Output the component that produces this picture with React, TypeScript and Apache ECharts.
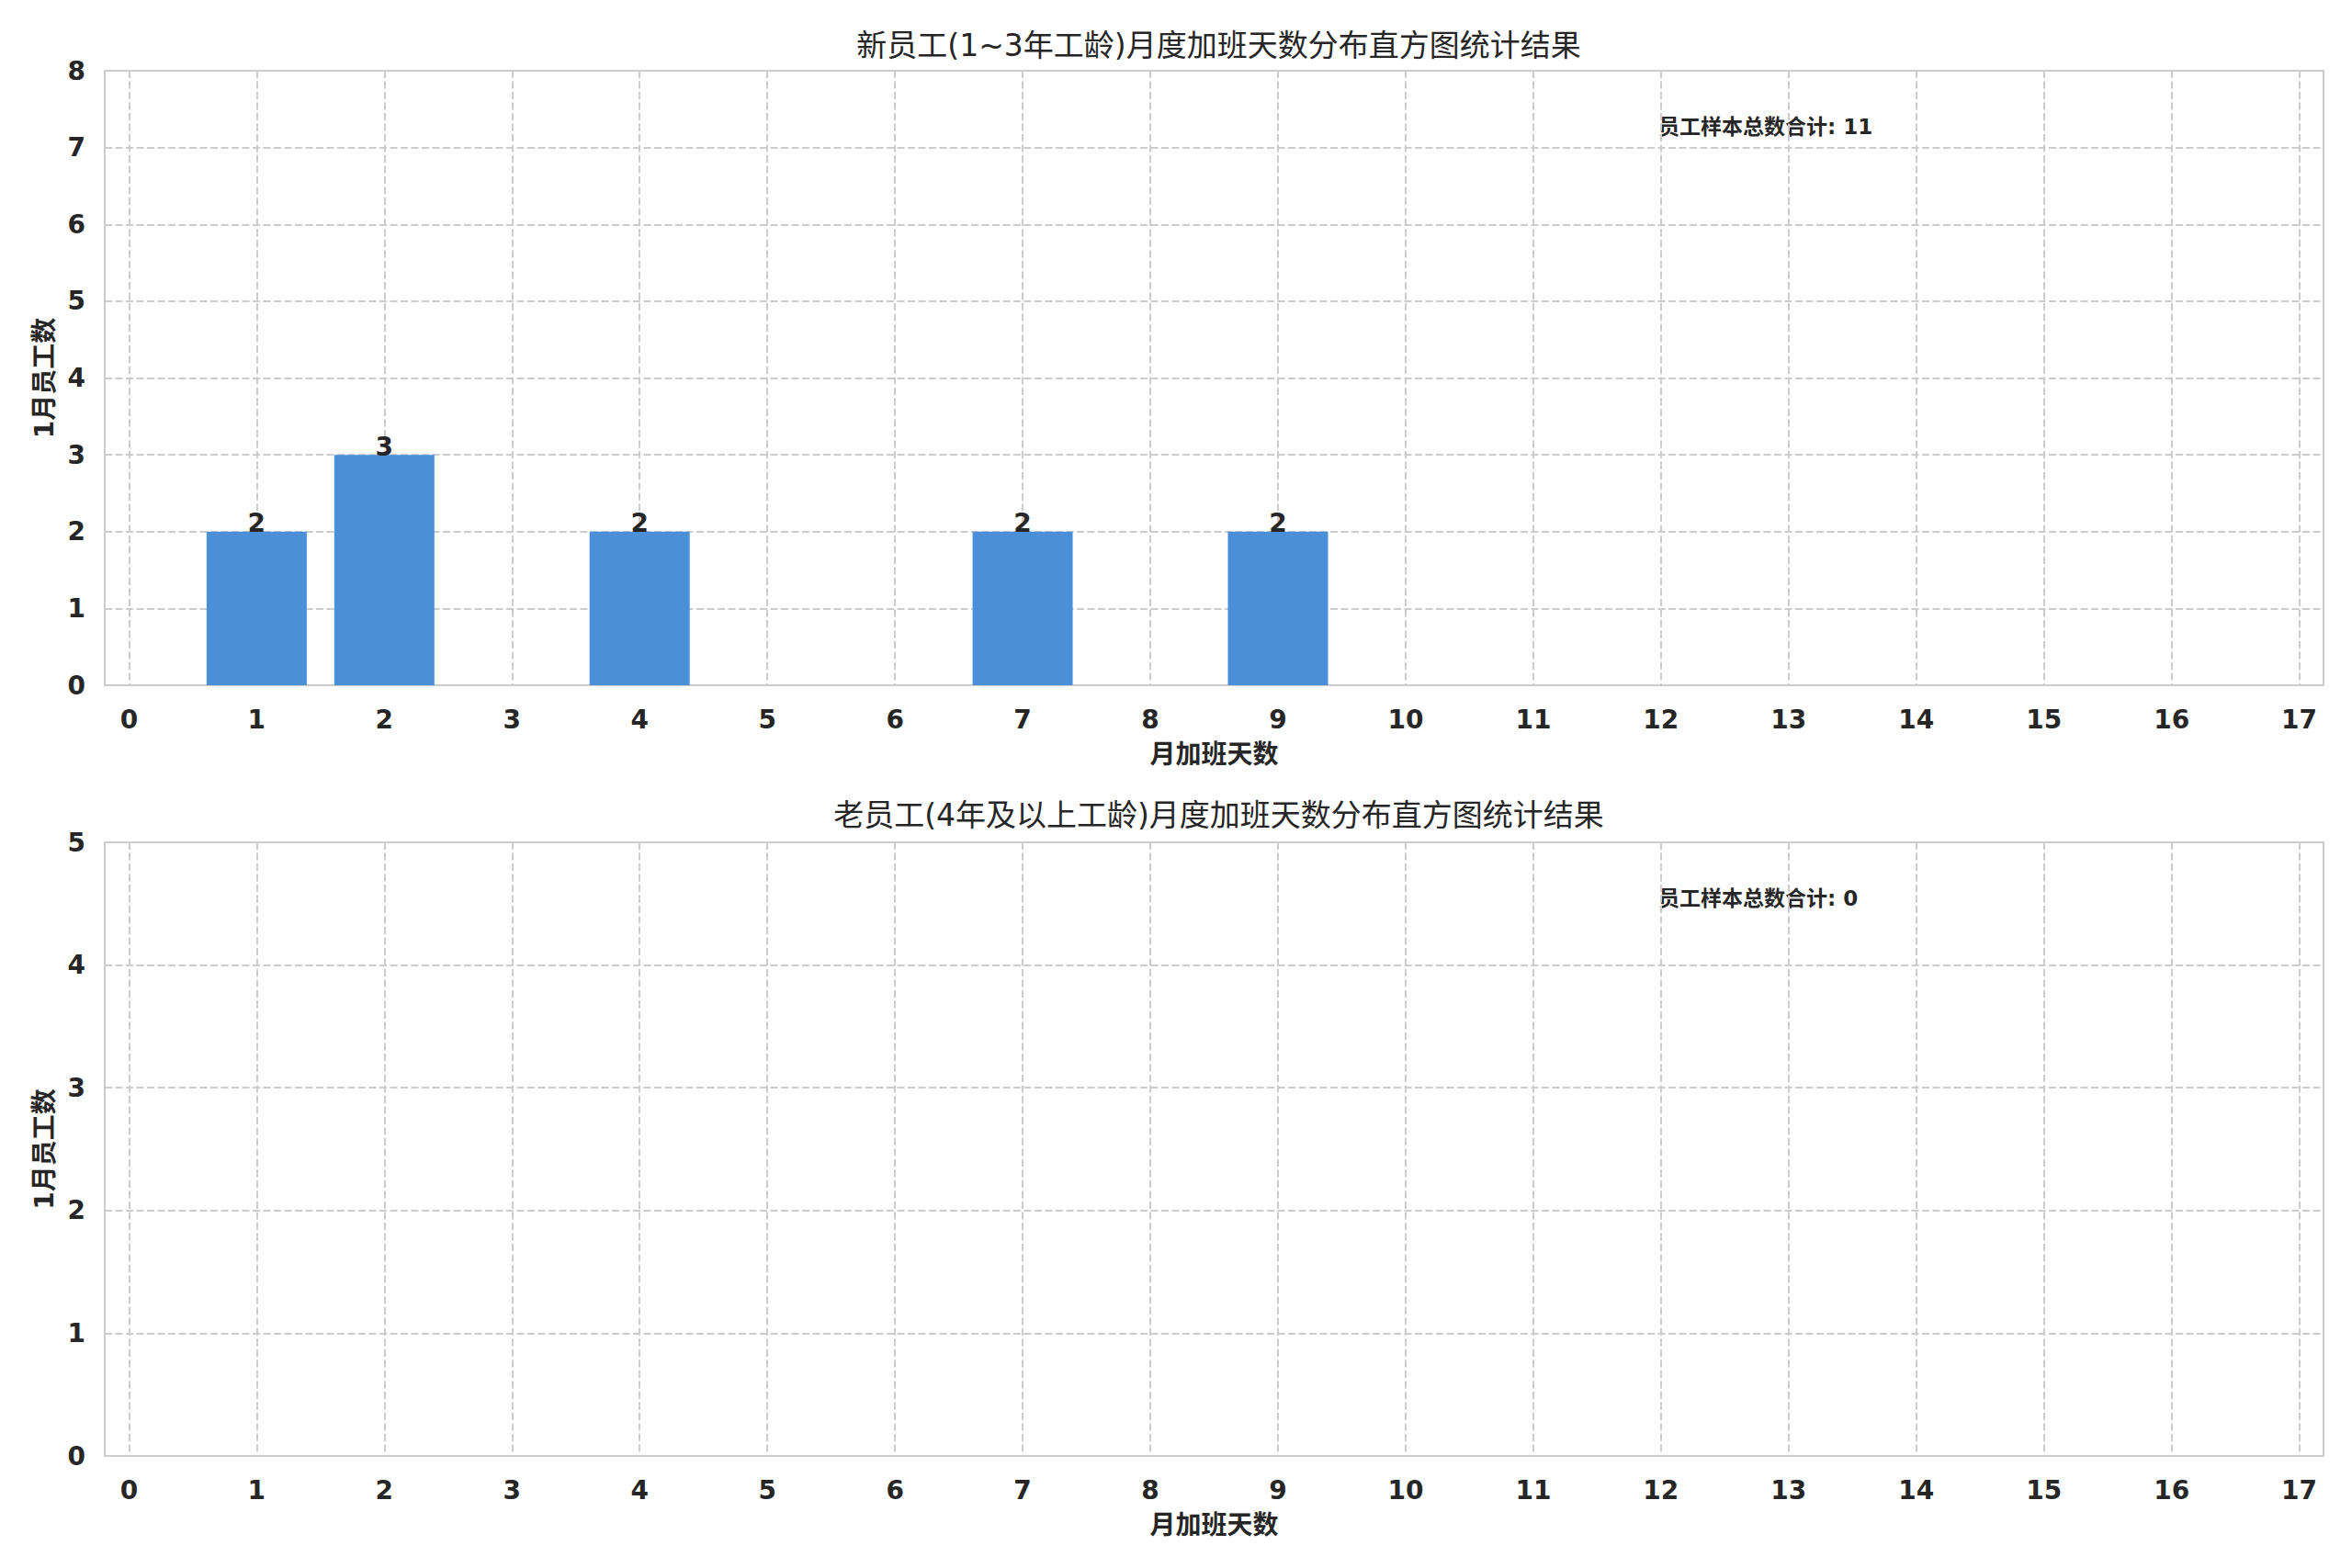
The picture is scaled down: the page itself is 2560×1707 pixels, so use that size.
import React, { useEffect, useRef } from "react";
import * as echarts from "echarts";

// ---- data ----
const DAY_CATEGORIES = [0, 1, 2, 3, 4, 5, 6, 7, 8, 9, 10, 11, 12, 13, 14, 15, 16, 17];
const SHORT_TENURE_COUNTS = [0, 2, 3, 0, 2, 0, 0, 2, 0, 2, 0, 0, 0, 0, 0, 0, 0, 0];
const LONG_TENURE_COUNTS = [0, 0, 0, 0, 0, 0, 0, 0, 0, 0, 0, 0, 0, 0, 0, 0, 0, 0];
const TOP_Y_MAX = 8;
const BOTTOM_Y_MAX = 5;

const TITLES = [
  "新员工(1~3年工龄)月度加班天数分布直方图统计结果",
  "老员工(4年及以上工龄)月度加班天数分布直方图统计结果",
];
const X_NAME = "月加班天数";
const Y_NAME = "1月员工数";
const TOTAL_LABEL = "员工样本总数合计";

const FONT = "'DejaVu Sans', 'Noto Sans CJK SC', sans-serif";
const TEXT = "#262626";
const GRID_C = "#cccccc";

function total(arr: number[]) {
  let s = 0;
  for (const v of arr) s += v;
  return s;
}

export default function App() {
  const ref = useRef<HTMLDivElement>(null);
  useEffect(() => {
    if (!ref.current) return;
    const chart = echarts.init(ref.current, undefined, { renderer: "svg" });
    const grids = [
      { left: 114, top: 77, width: 2415, height: 669 },
      { left: 114, top: 917, width: 2415, height: 668 },
    ];
    const titleY = [44, 882];
    const sets = [SHORT_TENURE_COUNTS, LONG_TENURE_COUNTS];
    const yMax = [TOP_Y_MAX, BOTTOM_Y_MAX];
    const dashed = { color: GRID_C, width: 2, type: [8, 3.5] as any };

    const option: any = {
      animation: false,
      backgroundColor: "#ffffff",
      textStyle: { fontFamily: FONT },
      title: grids.map((g, i) => ({
        text: TITLES[i],
        left: g.left + g.width / 2,
        top: titleY[i],
        textAlign: "center",
        textVerticalAlign: "middle",
        textStyle: { fontFamily: FONT, fontSize: 33, fontWeight: "normal", color: TEXT },
      })),
      grid: grids.map((g) => ({
        ...g,
        show: true,
        borderColor: GRID_C,
        borderWidth: 2,
        backgroundColor: "rgba(0,0,0,0)",
      })),
      xAxis: grids.map((_, i) => ({
        type: "value",
        gridIndex: i,
        min: -0.19,
        max: 17.19,
        axisLine: { show: false },
        axisTick: { show: false, customValues: DAY_CATEGORIES },
        axisLabel: {
          customValues: DAY_CATEGORIES,
          fontFamily: FONT,
          fontSize: 28,
          fontWeight: "bold",
          color: TEXT,
          margin: 23,
        },
        splitLine: { show: true, lineStyle: dashed },
        name: X_NAME,
        nameLocation: "middle",
        nameGap: 61,
        nameTextStyle: { fontFamily: FONT, fontSize: 28, fontWeight: "bold", color: TEXT },
      })),
      yAxis: grids.map((_, i) => ({
        type: "value",
        gridIndex: i,
        min: 0,
        max: yMax[i],
        interval: 1,
        axisLine: { show: false },
        axisTick: { show: false },
        axisLabel: {
          fontFamily: FONT,
          fontSize: 28,
          fontWeight: "bold",
          color: TEXT,
          margin: 21,
        },
        splitLine: { show: true, lineStyle: dashed },
        name: Y_NAME,
        nameLocation: "middle",
        nameGap: 51,
        nameRotate: 90,
        nameTextStyle: { fontFamily: FONT, fontSize: 28, fontWeight: "bold", color: TEXT },
      })),
      series: sets.map((arr, i) => ({
        type: "bar",
        xAxisIndex: i,
        yAxisIndex: i,
        barWidth: 109,
        data: DAY_CATEGORIES.map((d, k) => [d, arr[k]]).filter((p) => p[1] > 0),
        itemStyle: { color: "#4A90D9" },
        label: {
          show: true,
          position: "top",
          distance: -5,
          fontFamily: FONT,
          fontSize: 28,
          fontWeight: "bold",
          color: TEXT,
          formatter: (p: any) => String(p.value[1]),
        },
      })),
      graphic: grids.map((g, i) => ({
        type: "text",
        left: 1805,
        top: g.top + 63 - 14,
        style: {
          text: `${TOTAL_LABEL}: ${total(sets[i])}`,
          font: `bold 23px ${FONT}`,
          fill: TEXT,
        },
      })),
    };
    chart.setOption(option);
    return () => chart.dispose();
  }, []);
  return (
    <div
      ref={ref}
      style={{ position: "fixed", left: 0, top: 0, width: 2560, height: 1707, background: "#fff" }}
    />
  );
}
